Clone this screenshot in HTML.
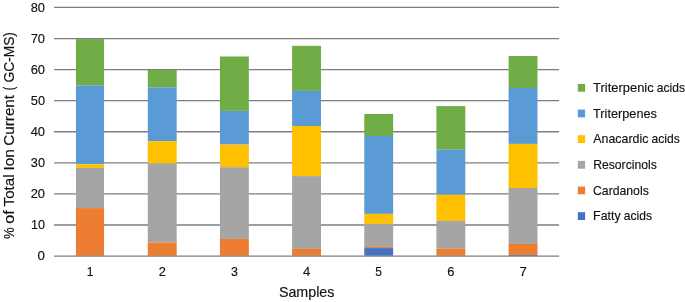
<!DOCTYPE html>
<html lang="en"><head><meta charset="utf-8"><title>GC-MS chart</title>
<style>
html,body{margin:0;padding:0;background:#fff;}
body{width:685px;height:302px;overflow:hidden;}
svg{display:block;}
text{font-family:"Liberation Sans",sans-serif;fill:#111;stroke:#111;stroke-width:0.15px;}
.k{font-size:13.1px;}
.l{font-size:12.8px;}
.a{font-size:15.0px;}
</style></head><body>
<svg width="685" height="302" viewBox="0 0 685 302">
<rect width="685" height="302" fill="#fff"/>
<line x1="54.0" x2="559.1" y1="7.45" y2="7.45" stroke="#7e7e7e" stroke-width="1.3"/>
<line x1="54.0" x2="559.1" y1="38.53" y2="38.53" stroke="#7e7e7e" stroke-width="1.3"/>
<line x1="54.0" x2="559.1" y1="69.61" y2="69.61" stroke="#7e7e7e" stroke-width="1.3"/>
<line x1="54.0" x2="559.1" y1="100.69" y2="100.69" stroke="#7e7e7e" stroke-width="1.3"/>
<line x1="54.0" x2="559.1" y1="131.77" y2="131.77" stroke="#7e7e7e" stroke-width="1.3"/>
<line x1="54.0" x2="559.1" y1="162.85" y2="162.85" stroke="#7e7e7e" stroke-width="1.3"/>
<line x1="54.0" x2="559.1" y1="193.93" y2="193.93" stroke="#7e7e7e" stroke-width="1.3"/>
<line x1="54.0" x2="559.1" y1="225.01" y2="225.01" stroke="#7e7e7e" stroke-width="1.3"/>
<rect x="75.95" y="39.10" width="28.1" height="46.30" fill="#70AD47"/>
<rect x="75.95" y="85.40" width="28.1" height="78.90" fill="#5B9BD5"/>
<rect x="75.95" y="164.30" width="28.1" height="3.60" fill="#FFC000"/>
<rect x="75.95" y="167.90" width="28.1" height="40.20" fill="#A5A5A5"/>
<rect x="75.95" y="208.10" width="28.1" height="47.70" fill="#ED7D31"/>
<rect x="147.79" y="70.00" width="28.9" height="17.30" fill="#70AD47"/>
<rect x="147.79" y="87.30" width="28.9" height="53.90" fill="#5B9BD5"/>
<rect x="147.79" y="141.20" width="28.9" height="22.30" fill="#FFC000"/>
<rect x="147.79" y="163.50" width="28.9" height="78.90" fill="#A5A5A5"/>
<rect x="147.79" y="242.40" width="28.9" height="13.40" fill="#ED7D31"/>
<rect x="219.94" y="56.50" width="28.9" height="54.40" fill="#70AD47"/>
<rect x="219.94" y="110.90" width="28.9" height="33.70" fill="#5B9BD5"/>
<rect x="219.94" y="144.60" width="28.9" height="22.60" fill="#FFC000"/>
<rect x="219.94" y="167.20" width="28.9" height="71.70" fill="#A5A5A5"/>
<rect x="219.94" y="238.90" width="28.9" height="16.90" fill="#ED7D31"/>
<rect x="292.10" y="45.80" width="28.9" height="45.10" fill="#70AD47"/>
<rect x="292.10" y="90.90" width="28.9" height="35.10" fill="#5B9BD5"/>
<rect x="292.10" y="126.00" width="28.9" height="50.10" fill="#FFC000"/>
<rect x="292.10" y="176.10" width="28.9" height="72.80" fill="#A5A5A5"/>
<rect x="292.10" y="248.90" width="28.9" height="6.90" fill="#ED7D31"/>
<rect x="364.26" y="114.00" width="28.9" height="22.00" fill="#70AD47"/>
<rect x="364.26" y="136.00" width="28.9" height="77.90" fill="#5B9BD5"/>
<rect x="364.26" y="213.90" width="28.9" height="10.00" fill="#FFC000"/>
<rect x="364.26" y="223.90" width="28.9" height="23.00" fill="#A5A5A5"/>
<rect x="364.26" y="246.90" width="28.9" height="1.20" fill="#ED7D31"/>
<rect x="364.26" y="248.10" width="28.9" height="7.70" fill="#4472C4"/>
<rect x="436.41" y="106.10" width="28.9" height="43.50" fill="#70AD47"/>
<rect x="436.41" y="149.60" width="28.9" height="45.20" fill="#5B9BD5"/>
<rect x="436.41" y="194.80" width="28.9" height="26.10" fill="#FFC000"/>
<rect x="436.41" y="220.90" width="28.9" height="27.80" fill="#A5A5A5"/>
<rect x="436.41" y="248.70" width="28.9" height="7.10" fill="#ED7D31"/>
<rect x="508.57" y="56.00" width="28.9" height="32.00" fill="#70AD47"/>
<rect x="508.57" y="88.00" width="28.9" height="55.90" fill="#5B9BD5"/>
<rect x="508.57" y="143.90" width="28.9" height="44.10" fill="#FFC000"/>
<rect x="508.57" y="188.00" width="28.9" height="55.90" fill="#A5A5A5"/>
<rect x="508.57" y="243.90" width="28.9" height="11.00" fill="#ED7D31"/>
<rect x="508.57" y="254.90" width="28.9" height="0.90" fill="#4472C4"/>
<line x1="54.0" x2="559.1" y1="256.09" y2="256.09" stroke="#7e7e7e" stroke-width="1.3"/>
<rect x="577.8" y="83.90" width="7.3" height="7.8" fill="#70AD47"/>
<rect x="577.8" y="109.56" width="7.3" height="7.8" fill="#5B9BD5"/>
<rect x="577.8" y="135.22" width="7.3" height="7.8" fill="#FFC000"/>
<rect x="577.8" y="160.88" width="7.3" height="7.8" fill="#A5A5A5"/>
<rect x="577.8" y="186.54" width="7.3" height="7.8" fill="#ED7D31"/>
<rect x="577.8" y="212.20" width="7.3" height="7.8" fill="#4472C4"/>
<text class="k" x="30.70" y="11.75" textLength="14.33" lengthAdjust="spacingAndGlyphs">80</text>
<text class="k" x="30.71" y="42.83" textLength="14.32" lengthAdjust="spacingAndGlyphs">70</text>
<text class="k" x="30.67" y="73.91" textLength="14.36" lengthAdjust="spacingAndGlyphs">60</text>
<text class="k" x="30.82" y="104.99" textLength="14.20" lengthAdjust="spacingAndGlyphs">50</text>
<text class="k" x="30.64" y="136.07" textLength="14.39" lengthAdjust="spacingAndGlyphs">40</text>
<text class="k" x="30.86" y="167.15" textLength="14.16" lengthAdjust="spacingAndGlyphs">30</text>
<text class="k" x="30.68" y="198.23" textLength="14.35" lengthAdjust="spacingAndGlyphs">20</text>
<text class="k" x="30.94" y="229.31" textLength="14.07" lengthAdjust="spacingAndGlyphs">10</text>
<text class="k" x="37.63" y="260.39" textLength="7.41" lengthAdjust="spacingAndGlyphs">0</text>
<text class="k" x="86.81" y="275.80" textLength="6.78" lengthAdjust="spacingAndGlyphs">1</text>
<text class="k" x="158.67" y="275.80" textLength="7.17" lengthAdjust="spacingAndGlyphs">2</text>
<text class="k" x="231.01" y="275.80" textLength="6.93" lengthAdjust="spacingAndGlyphs">3</text>
<text class="k" x="302.93" y="275.80" textLength="7.31" lengthAdjust="spacingAndGlyphs">4</text>
<text class="k" x="375.32" y="275.80" textLength="6.61" lengthAdjust="spacingAndGlyphs">5</text>
<text class="k" x="447.28" y="275.80" textLength="7.21" lengthAdjust="spacingAndGlyphs">6</text>
<text class="k" x="519.46" y="275.80" textLength="7.31" lengthAdjust="spacingAndGlyphs">7</text>
<text class="a" x="278.88" y="296.70" textLength="55.59" lengthAdjust="spacingAndGlyphs">Samples</text>
<text class="a" transform="translate(14.10,135.4) rotate(-90)" y="0.00"><tspan x="-103.59" textLength="11.60" lengthAdjust="spacingAndGlyphs">%</tspan> <tspan x="-88.32" textLength="13.59" lengthAdjust="spacingAndGlyphs">of</tspan> <tspan x="-71.04" textLength="32.06" lengthAdjust="spacingAndGlyphs">Total</tspan> <tspan x="-35.20" textLength="21.47" lengthAdjust="spacingAndGlyphs">Ion</tspan> <tspan x="-10.25" textLength="50.72" lengthAdjust="spacingAndGlyphs">Current</tspan> <tspan x="44.87" textLength="3.71" lengthAdjust="spacingAndGlyphs">(</tspan> <tspan x="52.96" textLength="50.34" lengthAdjust="spacingAndGlyphs">GC-MS)</tspan></text>
<text class="l" y="92.00"><tspan x="593.07" textLength="60.64" lengthAdjust="spacingAndGlyphs">Triterpenic</tspan> <tspan x="656.82" textLength="28.21" lengthAdjust="spacingAndGlyphs">acids</tspan></text>
<text class="l" x="593.08" y="117.66" textLength="63.82" lengthAdjust="spacingAndGlyphs">Triterpenes</text>
<text class="l" y="143.32"><tspan x="593.23" textLength="55.14" lengthAdjust="spacingAndGlyphs">Anacardic</tspan> <tspan x="651.49" textLength="28.22" lengthAdjust="spacingAndGlyphs">acids</tspan></text>
<text class="l" x="593.19" y="168.98" textLength="63.56" lengthAdjust="spacingAndGlyphs">Resorcinols</text>
<text class="l" x="593.03" y="194.64" textLength="55.75" lengthAdjust="spacingAndGlyphs">Cardanols</text>
<text class="l" y="220.30"><tspan x="593.12" textLength="27.49" lengthAdjust="spacingAndGlyphs">Fatty</tspan> <tspan x="623.85" textLength="28.22" lengthAdjust="spacingAndGlyphs">acids</tspan></text>
</svg>
</body></html>
